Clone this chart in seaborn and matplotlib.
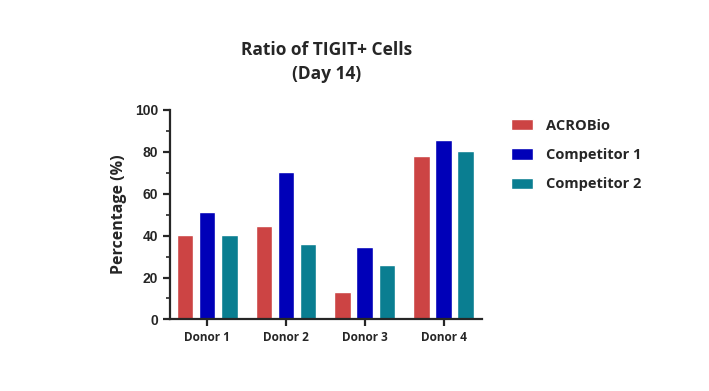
import pandas as pd
import seaborn as sns
import matplotlib.pyplot as plt
from matplotlib.ticker import MultipleLocator

# Data
donors = ['Donor 1', 'Donor 2', 'Donor 3', 'Donor 4']
series = ['ACROBio', 'Competitor 1', 'Competitor 2']
acrobio = [40.3, 44.6, 13.1, 78.0]
competitor1 = [51.3, 70.4, 34.6, 85.7]
competitor2 = [40.3, 36.0, 26.0, 80.4]
colors = ['#cc4444', '#0000b8', '#0a7e91']

df = pd.DataFrame({
    'donor': donors * 3,
    'group': [s for s in series for _ in donors],
    'value': acrobio + competitor1 + competitor2,
})

sns.set_style('ticks')
plt.rcParams['font.family'] = ['Open Sans', 'DejaVu Sans']

fig = plt.figure(figsize=(7.09, 3.91), dpi=100)
ax = fig.add_axes([0.240, 0.183, 0.440, 0.536])

sns.barplot(data=df, x='donor', y='value', hue='group', order=donors,
            hue_order=series, palette=colors, width=0.84, gap=0.25,
            saturation=1, errorbar=None, ax=ax)

ax.set_xlim(-0.47, 3.49)
ax.set_ylim(0, 100)
ax.yaxis.set_major_locator(MultipleLocator(20))
ax.yaxis.set_minor_locator(MultipleLocator(10))
sns.despine(ax=ax)
for side in ['left', 'bottom']:
    ax.spines[side].set_linewidth(1.6)
ax.tick_params(axis='both', which='major', width=1.6, length=5)
ax.tick_params(axis='y', which='major', labelsize=10)
ax.tick_params(axis='x', which='major', labelsize=8.5)
ax.tick_params(axis='y', which='minor', width=1.2, length=3)
for lab in ax.get_xticklabels() + ax.get_yticklabels():
    lab.set_fontweight('bold')
for lab in ax.get_yticklabels():
    lab.set_family(['Liberation Sans', 'DejaVu Sans'])

ax.set_xlabel('')
ax.set_ylabel('Percentage (%)', fontsize=11.5, fontweight='bold', labelpad=6)
ax.set_title('Ratio of TIGIT+ Cells\n(Day 14)', fontsize=12.5, fontweight='bold',
             pad=22, linespacing=1.45)

leg = ax.legend(loc='upper left', bbox_to_anchor=(1.05, 1.02), frameon=False,
                prop={'weight': 'bold', 'size': 10.5}, handlelength=1.5,
                handleheight=0.8, labelspacing=1.05, handletextpad=0.9)

fig.savefig('out.png', dpi=100)
